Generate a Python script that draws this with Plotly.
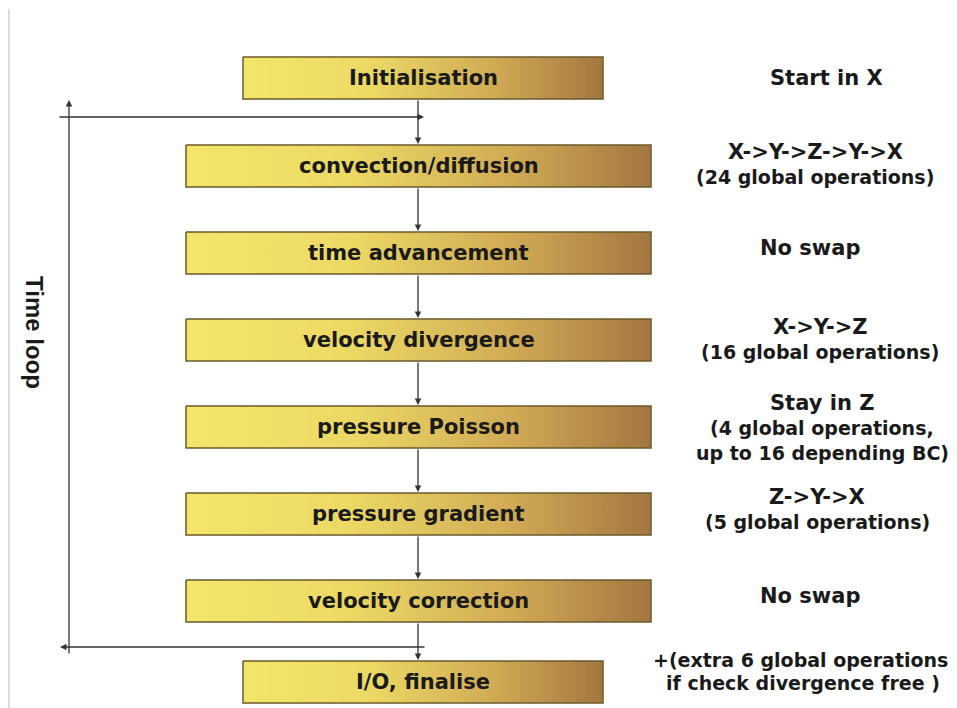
import plotly.graph_objects as go

# etapas do fluxo e notas de transposição
steps = ['Initialisation', 'convection/diffusion', 'time advancement',
         'velocity divergence', 'pressure Poisson', 'pressure gradient',
         'velocity correction', 'I/O, finalise']
notes_title = ['Start in X', 'X->Y->Z->Y->X', 'No swap', 'X->Y->Z', 'Stay in Z',
               'Z->Y->X', 'No swap', '+(extra 6 global operations']
notes_detail = [[], ['(24 global operations)'], [], ['(16 global operations)'],
                ['(4 global operations,', 'up to 16 depending BC)'],
                ['(5 global operations)'], [], ['if check divergence free )']]
loop_label = 'Time loop'

W, H = 957, 708
OFF = 8  # margem padrão do body no html
CX = 418
BOX_H = 42
box_top = [57, 145, 232, 319, 406, 493, 580, 661]
box_cx = [423, 418.5, 418.5, 418.5, 418.5, 418.5, 418.5, 423]
box_half = [180, 232.5, 232.5, 232.5, 232.5, 232.5, 232.5, 180]
note_y = [78, 152, 248, 327, 403, 497, 596, 660]
note_x = [826, 815, 810, 820, 822, 817, 810, 800]

GRAD = [[0, '#f3e66b'], [0.35, '#ecd964'], [0.7, '#d0aa55'], [1, '#a3763f']]
DARK = '#1a1a1a'
BOX_FONT = dict(family='DejaVu Sans', size=21, color=DARK)

fig = go.Figure()

# caixas com gradiente horizontal
for i, label in enumerate(steps):
    x0, x1 = box_cx[i] - box_half[i], box_cx[i] + box_half[i]
    y0, y1 = box_top[i], box_top[i] + BOX_H
    fig.add_trace(go.Scatter(
        x=[x0, x1, x1, x0, x0], y=[y0, y0, y1, y1, y0],
        mode='lines', fill='toself',
        fillgradient=dict(type='horizontal', colorscale=GRAD),
        line=dict(color='#6b5a2c', width=1.5),
        hoverinfo='skip', showlegend=False
    ))
    fig.add_annotation(x=box_cx[i], y=(y0 + y1) / 2, text=f'<b>{label}</b>',
                       showarrow=False, font=BOX_FONT)

    # notas à direita
    last = i == len(steps) - 1
    fig.add_annotation(x=note_x[i], y=note_y[i], text=f'<b>{notes_title[i]}</b>',
                       showarrow=False,
                       font=dict(family='DejaVu Sans', size=19 if last else 21, color=DARK))
    for k, line in enumerate(notes_detail[i]):
        fig.add_annotation(x=note_x[i] + (3 if last else 0), y=note_y[i] + 25 * (k + 1) - (2 if last else 0),
                           text=f'<b>{line}</b>', showarrow=False,
                           font=dict(family='DejaVu Sans', size=19, color=DARK))


def arrow(x0, y0, x1, y1):
    fig.add_annotation(x=x1, y=y1, ax=x0, ay=y0, xref='x', yref='y',
                       axref='x', ayref='y', showarrow=True, text='',
                       arrowhead=2, arrowsize=1, arrowwidth=1.3, arrowcolor='#333333')


# setas verticais entre caixas
for i in range(len(steps) - 1):
    arrow(CX, box_top[i] + BOX_H, CX, box_top[i + 1] - 1)

# laço de tempo
arrow(58, 117, 424, 117)
arrow(69, 655, 69, 100)
arrow(426, 647, 60, 647)

fig.add_annotation(x=35, y=332, text=f'<b>{loop_label}</b>', textangle=90,
                   showarrow=False,
                   font=dict(family='Liberation Sans', size=24, color=DARK))

# borda esquerda clara
fig.add_shape(type='line', x0=9, x1=9, y0=9, y1=H + OFF, line=dict(color='#dddddd', width=2))

fig.update_xaxes(range=[OFF, W + OFF], visible=False)
fig.update_yaxes(range=[H + OFF, OFF], visible=False)
fig.update_layout(width=W, height=H, margin=dict(l=0, r=0, t=0, b=0),
                  plot_bgcolor='white', paper_bgcolor='white')

fig.write_html('out.html')
